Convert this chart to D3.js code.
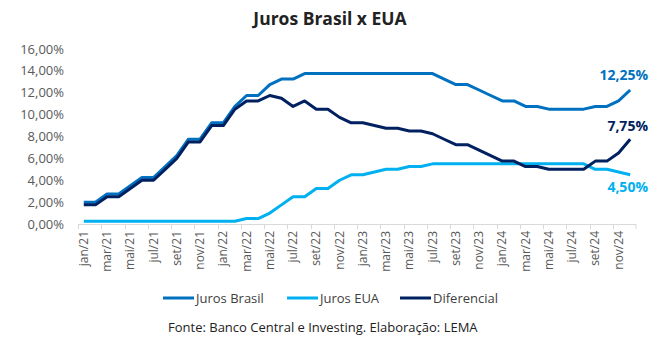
<!DOCTYPE html>
<html>
<head>
<meta charset="utf-8">
<script src="https://cdn.jsdelivr.net/npm/d3@7"></script>
<style>
  body { margin: 0; background: #fff; }
  svg { font-family: "Open Sans", sans-serif; }
</style>
</head>
<body>
<div id="chart"></div>
<script>
// months jan/21 .. dez/24
const monthNames = ["jan", "fev", "mar", "abr", "mai", "jun", "jul", "ago", "set", "out", "nov", "dez"];
const years = ["21", "22", "23", "24"];
const months = [];
years.forEach(y => monthNames.forEach(m => months.push(m + "/" + y)));

const jurosBrasil = [
  2.00, 2.00, 2.75, 2.75, 3.50, 4.25, 4.25, 5.25, 6.25, 7.75, 7.75, 9.25,
  9.25, 10.75, 11.75, 11.75, 12.75, 13.25, 13.25, 13.75, 13.75, 13.75, 13.75, 13.75,
  13.75, 13.75, 13.75, 13.75, 13.75, 13.75, 13.75, 13.25, 12.75, 12.75, 12.25, 11.75,
  11.25, 11.25, 10.75, 10.75, 10.50, 10.50, 10.50, 10.50, 10.75, 10.75, 11.25, 12.25
];
const jurosEUA = [
  0.25, 0.25, 0.25, 0.25, 0.25, 0.25, 0.25, 0.25, 0.25, 0.25, 0.25, 0.25,
  0.25, 0.25, 0.50, 0.50, 1.00, 1.75, 2.50, 2.50, 3.25, 3.25, 4.00, 4.50,
  4.50, 4.75, 5.00, 5.00, 5.25, 5.25, 5.50, 5.50, 5.50, 5.50, 5.50, 5.50,
  5.50, 5.50, 5.50, 5.50, 5.50, 5.50, 5.50, 5.50, 5.00, 5.00, 4.75, 4.50
];
const diferencial = [
  1.75, 1.75, 2.50, 2.50, 3.25, 4.00, 4.00, 5.00, 6.00, 7.50, 7.50, 9.00,
  9.00, 10.50, 11.25, 11.25, 11.75, 11.50, 10.75, 11.25, 10.50, 10.50, 9.75, 9.25,
  9.25, 9.00, 8.75, 8.75, 8.50, 8.50, 8.25, 7.75, 7.25, 7.25, 6.75, 6.25,
  5.75, 5.75, 5.25, 5.25, 5.00, 5.00, 5.00, 5.00, 5.75, 5.75, 6.50, 7.75
];
const yTicks = [0, 2, 4, 6, 8, 10, 12, 14, 16];

const series = [
  { name: "Juros Brasil", values: jurosBrasil, color: "#0070C0" },
  { name: "Juros EUA", values: jurosEUA, color: "#00B0F0" },
  { name: "Diferencial", values: diferencial, color: "#002060" }
];

const width = 667, height = 345;
const fmt = v => v.toFixed(2).replace(".", ",") + "%";

const svg = d3.select("#chart").append("svg")
  .attr("width", width)
  .attr("height", height);

const x = d3.scaleBand().domain(months).range([78, 636]).padding(0);
const y = d3.scaleLinear().domain([0, 16]).range([224, 49]);

// title
svg.append("text")
  .attr("x", 330).attr("y", 25)
  .attr("text-anchor", "middle")
  .attr("font-size", 17.5).attr("font-weight", "bold")
  .attr("fill", "#222")
  .text("Juros Brasil x EUA");

// y axis labels
svg.append("g").selectAll("text")
  .data(yTicks)
  .enter().append("text")
  .attr("x", 64)
  .attr("y", d => y(d))
  .attr("dy", "0.35em")
  .attr("text-anchor", "end")
  .attr("font-size", 13)
  .attr("fill", "#595959")
  .text(d => fmt(d));

// x axis line + ticks every 2 months
const xg = svg.append("g");
xg.append("line")
  .attr("x1", 78).attr("x2", 636)
  .attr("y1", 224.5).attr("y2", 224.5)
  .attr("stroke", "#d9d9d9");
const tickMonths = months.filter((m, i) => i % 2 === 0);
xg.selectAll("line.tick")
  .data(tickMonths.concat(["end"]))
  .enter().append("line")
  .attr("class", "tick")
  .attr("x1", d => d === "end" ? 636 : Math.round(x(d)) + 0.5)
  .attr("x2", d => d === "end" ? 636 : Math.round(x(d)) + 0.5)
  .attr("y1", 224).attr("y2", 229)
  .attr("stroke", "#d9d9d9");
xg.selectAll("text")
  .data(tickMonths)
  .enter().append("text")
  .attr("transform", d => `translate(${x(d) + x.bandwidth() / 2 + 4},231) rotate(-90)`)
  .attr("text-anchor", "end")
  .attr("font-size", 12)
  .attr("fill", "#595959")
  .text(d => d);

// lines
const line = d3.line()
  .x((d, i) => x(months[i]) + x.bandwidth() / 2)
  .y(d => y(d));

svg.append("g").selectAll("path")
  .data(series)
  .enter().append("path")
  .attr("d", d => line(d.values))
  .attr("fill", "none")
  .attr("stroke", d => d.color)
  .attr("stroke-width", 3)
  .attr("stroke-linejoin", "round");

// end labels
const endLabelY = { "Juros Brasil": 80, "Juros EUA": 192, "Diferencial": 131 };
svg.append("g").selectAll("text")
  .data(series)
  .enter().append("text")
  .attr("x", 648)
  .attr("y", d => endLabelY[d.name])
  .attr("text-anchor", "end")
  .attr("font-size", 14).attr("font-weight", "bold")
  .attr("fill", d => d.color)
  .text(d => fmt(d.values[d.values.length - 1]));

// legend
const legendX = [163, 287, 400];
const lg = svg.append("g").selectAll("g")
  .data(series)
  .enter().append("g")
  .attr("transform", (d, i) => `translate(${legendX[i]},298)`);
lg.append("line")
  .attr("x1", 0).attr("x2", 31)
  .attr("stroke", d => d.color)
  .attr("stroke-width", 3);
lg.append("text")
  .attr("x", 33).attr("dy", "0.35em")
  .attr("font-size", 13)
  .attr("fill", "#404040")
  .text(d => d.name);

// source
svg.append("text")
  .attr("x", 168).attr("y", 332)
  .attr("font-size", 13)
  .attr("fill", "#222")
  .text("Fonte: Banco Central e Investing. Elaboração: LEMA");
</script>
</body>
</html>
